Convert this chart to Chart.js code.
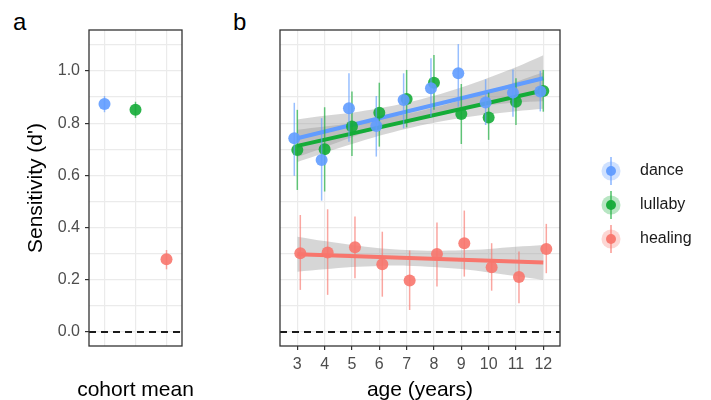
<!DOCTYPE html>
<html>
<head>
<meta charset="utf-8">
<script src="https://cdn.jsdelivr.net/npm/chart.js@4.4.1/dist/chart.umd.min.js"></script>
<style>
  body { margin: 0; background: #fff; }
  #wrap { position: relative; width: 711px; height: 400px; font-family: "Liberation Sans", Arial, sans-serif; }
  #wrap canvas { position: absolute; top: 0; }
  .tag { position: absolute; font-size: 24px; line-height: 1; color: #000; }
</style>
</head>
<body>
<div id="wrap">
  <div class="tag" style="left:13px;top:10px">a</div>
  <div class="tag" style="left:233px;top:10px">b</div>
  <canvas id="cohortChart" width="200" height="400" style="left:0"></canvas>
  <canvas id="ageChart" width="521" height="400" style="left:190px"></canvas>
</div>
<script>
// panel a - cohort means
var cohortLabels = ['dance', 'lullaby', 'healing'];
var cohortMean = [0.873, 0.851, 0.278];
var cohortLow = [0.842, 0.820, 0.240];
var cohortHigh = [0.904, 0.882, 0.314];

// panel b - by age
var ages = [3, 4, 5, 6, 7, 8, 9, 10, 11, 12];
var danceMean = [0.742, 0.659, 0.857, 0.789, 0.889, 0.934, 0.991, 0.879, 0.917, 0.921];
var danceLow = [0.598, 0.503, 0.729, 0.672, 0.780, 0.825, 0.863, 0.793, 0.825, 0.845];
var danceHigh = [0.878, 0.819, 0.991, 0.904, 0.991, 1.049, 1.103, 0.968, 1.006, 1.000];
var lullabyMean = [0.697, 0.700, 0.787, 0.840, 0.893, 0.955, 0.835, 0.822, 0.882, 0.923];
var lullabyLow = [0.544, 0.538, 0.674, 0.710, 0.784, 0.851, 0.720, 0.736, 0.793, 0.844];
var lullabyHigh = [0.851, 0.861, 0.921, 0.955, 1.004, 1.061, 0.950, 0.917, 0.972, 1.004];
var healingMean = [0.301, 0.304, 0.324, 0.259, 0.197, 0.299, 0.340, 0.248, 0.210, 0.318];
var healingLow = [0.161, 0.142, 0.206, 0.135, 0.084, 0.174, 0.212, 0.158, 0.110, 0.225];
var healingHigh = [0.448, 0.470, 0.442, 0.384, 0.312, 0.419, 0.465, 0.340, 0.308, 0.414];

// linear fits (ends) and their confidence bands
var fitAges = [3, 12];
var danceFit = [0.742, 0.972];
var lullabyFit = [0.713, 0.925];
var healingFit = [0.298, 0.266];
var danceBandUp = [0.814, 0.828, 0.840, 0.857, 0.878, 0.905, 0.937, 0.974, 1.014, 1.060];
var danceBandLo = [0.670, 0.708, 0.746, 0.781, 0.810, 0.835, 0.855, 0.869, 0.879, 0.884];
var lullabyBandUp = [0.775, 0.787, 0.800, 0.816, 0.835, 0.860, 0.888, 0.922, 0.958, 0.995];
var lullabyBandLo = [0.651, 0.687, 0.720, 0.752, 0.779, 0.802, 0.820, 0.834, 0.846, 0.855];
var healingBandUp = [0.365, 0.348, 0.333, 0.321, 0.314, 0.311, 0.313, 0.318, 0.326, 0.333];
var healingBandLo = [0.231, 0.240, 0.249, 0.253, 0.254, 0.249, 0.241, 0.228, 0.214, 0.199];

var yGrid = [0, 0.1, 0.2, 0.3, 0.4, 0.5, 0.6, 0.7, 0.8, 0.9, 1.0, 1.1];

var FONT = '"Liberation Sans", Arial, sans-serif';
var colors = { dance: '97, 156, 255', lullaby: '20, 172, 55', healing: '248, 118, 109' };
var dodge = { dance: -0.11, lullaby: 0, healing: 0.11 };

function rgba(name, a) { return 'rgba(' + colors[name] + ',' + a + ')'; }
function isMajor(v) { return Math.round(v * 10) % 2 === 0; }

function yScale(withLabels) {
  return {
    min: -0.054,
    max: 1.157,
    afterBuildTicks: function (s) { s.ticks = yGrid.map(function (v) { return { value: v }; }); },
    afterFit: function (s) { s.width = withLabels ? 89 : 90; },
    border: { display: false },
    grid: {
      color: '#ebebeb', lineWidth: 1.2,
      drawTicks: withLabels, tickLength: 4,
      tickColor: function (c) { return c.tick && isMajor(c.tick.value) ? '#333' : 'rgba(0,0,0,0)'; }
    },
    ticks: {
      display: withLabels, padding: 5, color: '#4d4d4d', font: { family: FONT, size: 16 },
      callback: function (v) { return isMajor(v) ? v.toFixed(1) : ''; }
    },
    title: {
      display: withLabels, text: "Sensitivity (d')", color: '#000',
      font: { family: FONT, size: 21, lineHeight: 1 }, padding: { top: 26, bottom: 0 }
    }
  };
}

// error bars drawn right before their points
var errorBars = {
  id: 'errorBars',
  beforeDatasetDraw: function (chart, args) {
    var ds = chart.data.datasets[args.index];
    if (!ds.errLow) return;
    var ctx = chart.ctx, y = chart.scales.y;
    ctx.save();
    ctx.lineWidth = 1.5;
    args.meta.data.forEach(function (pt, i) {
      ctx.strokeStyle = Array.isArray(ds.errColor) ? ds.errColor[i] : ds.errColor;
      ctx.beginPath();
      ctx.moveTo(pt.x, y.getPixelForValue(ds.errLow[i]));
      ctx.lineTo(pt.x, y.getPixelForValue(ds.errHigh[i]));
      ctx.stroke();
    });
    ctx.restore();
  }
};

// dashed zero line and panel border
var panelFrame = {
  id: 'panelFrame',
  afterDatasetsDraw: function (chart) {
    var ctx = chart.ctx, a = chart.chartArea;
    var y0 = chart.scales.y.getPixelForValue(0);
    ctx.save();
    ctx.strokeStyle = '#1a1a1a';
    ctx.lineWidth = 2;
    ctx.setLineDash([7, 5]);
    ctx.beginPath();
    ctx.moveTo(a.left, y0);
    ctx.lineTo(a.right, y0);
    ctx.stroke();
    ctx.setLineDash([]);
    ctx.strokeStyle = '#333';
    ctx.lineWidth = 1.3;
    ctx.strokeRect(a.left, a.top, a.right - a.left, a.bottom - a.top);
    ctx.restore();
  }
};

// x title of panel a is wider than the panel, so draw it unclipped
var cohortTitle = {
  id: 'cohortTitle',
  afterDraw: function (chart) {
    var ctx = chart.ctx, a = chart.chartArea;
    ctx.save();
    ctx.fillStyle = '#000';
    ctx.font = '21px ' + FONT;
    ctx.textAlign = 'center';
    ctx.textBaseline = 'middle';
    ctx.fillText('cohort mean', (a.left + a.right) / 2, 390);
    ctx.restore();
  }
};

var cohortChart = new Chart(document.getElementById('cohortChart').getContext('2d'), {
  type: 'line',
  data: {
    labels: cohortLabels,
    datasets: [{
      data: cohortMean,
      showLine: false,
      errLow: cohortLow,
      errHigh: cohortHigh,
      errColor: cohortLabels.map(function (n) { return rgba(n, 0.65); }),
      pointRadius: 6,
      pointBorderWidth: 0,
      pointBackgroundColor: cohortLabels.map(function (n) { return rgba(n, 0.9); })
    }]
  },
  options: {
    responsive: false,
    animation: false,
    layout: { padding: { left: 0, right: 18, top: 30, bottom: 0 } },
    plugins: { legend: { display: false }, tooltip: { enabled: false } },
    scales: {
      x: {
        type: 'category',
        offset: true,
        afterFit: function (s) { s.height = 54; },
        border: { display: false },
        grid: { offset: false, color: '#ebebeb', lineWidth: 1.2, drawTicks: false },
        ticks: { display: false },
        title: { display: false }
      },
      y: yScale(true)
    }
  },
  plugins: [errorBars, panelFrame, cohortTitle]
});

// custom legend: halo + point + range line
var sideLegend = {
  id: 'sideLegend',
  afterDraw: function (chart) {
    var ctx = chart.ctx;
    var rows = [['dance', 171], ['lullaby', 205], ['healing', 239]];
    ctx.save();
    rows.forEach(function (r) {
      var cx = 421, cy = r[1];
      ctx.fillStyle = rgba(r[0], 0.3);
      ctx.beginPath(); ctx.arc(cx, cy, 9.5, 0, Math.PI * 2); ctx.fill();
      ctx.strokeStyle = rgba(r[0], 0.75);
      ctx.lineWidth = 1.5;
      ctx.beginPath(); ctx.moveTo(cx, cy - 14); ctx.lineTo(cx, cy + 14); ctx.stroke();
      ctx.fillStyle = rgba(r[0], 0.95);
      ctx.beginPath(); ctx.arc(cx, cy, 5, 0, Math.PI * 2); ctx.fill();
      ctx.fillStyle = '#1a1a1a';
      ctx.font = '16px ' + FONT;
      ctx.textBaseline = 'middle';
      ctx.fillText(r[0], 450, cy);
    });
    ctx.restore();
  }
};

function pointSet(name, mean, lo, hi) {
  return {
    label: name,
    type: 'scatter',
    order: 0,
    data: ages.map(function (a, i) { return { x: a + dodge[name], y: mean[i] }; }),
    errLow: lo, errHigh: hi, errColor: rgba(name, 0.65),
    pointRadius: 6, pointBorderWidth: 0,
    pointBackgroundColor: rgba(name, 0.9)
  };
}
function fitSet(name, fit) {
  return {
    type: 'line', order: 1,
    data: fitAges.map(function (a, i) { return { x: a, y: fit[i] }; }),
    borderColor: rgba(name, 1), borderWidth: 4, pointRadius: 0, fill: false
  };
}
function bandSets(lo, up) {
  return [{
    type: 'line', order: 2,
    data: ages.map(function (a, i) { return { x: a, y: lo[i] }; }),
    borderWidth: 0, pointRadius: 0, fill: false, tension: 0.3
  }, {
    type: 'line', order: 2,
    data: ages.map(function (a, i) { return { x: a, y: up[i] }; }),
    borderWidth: 0, pointRadius: 0, tension: 0.3,
    fill: '-1', backgroundColor: 'rgba(153,153,153,0.4)'
  }];
}

var ageDatasets = [
  pointSet('dance', danceMean, danceLow, danceHigh),
  pointSet('lullaby', lullabyMean, lullabyLow, lullabyHigh),
  pointSet('healing', healingMean, healingLow, healingHigh),
  fitSet('dance', danceFit),
  fitSet('lullaby', lullabyFit),
  fitSet('healing', healingFit)
].concat(bandSets(danceBandLo, danceBandUp))
 .concat(bandSets(lullabyBandLo, lullabyBandUp))
 .concat(bandSets(healingBandLo, healingBandUp));

var ageChart = new Chart(document.getElementById('ageChart').getContext('2d'), {
  type: 'scatter',
  data: { datasets: ageDatasets },
  options: {
    responsive: false,
    animation: false,
    layout: { padding: { left: 0, right: 151, top: 30, bottom: 0 } },
    plugins: { legend: { display: false }, tooltip: { enabled: false } },
    scales: {
      x: {
        type: 'linear',
        min: 2.367,
        max: 12.611,
        afterBuildTicks: function (s) { s.ticks = ages.map(function (v) { return { value: v }; }); },
        afterFit: function (s) { s.height = 54; },
        border: { display: false },
        grid: { color: '#ebebeb', lineWidth: 1.2, drawTicks: true, tickLength: 4, tickColor: '#333' },
        ticks: { padding: 5, color: '#4d4d4d', font: { family: FONT, size: 16 } },
        title: {
          display: true, text: 'age (years)', color: '#000',
          font: { family: FONT, size: 21, lineHeight: 1 }, padding: { top: 0, bottom: -1 }
        }
      },
      y: yScale(false)
    }
  },
  plugins: [errorBars, panelFrame, sideLegend]
});
</script>
</body>
</html>
